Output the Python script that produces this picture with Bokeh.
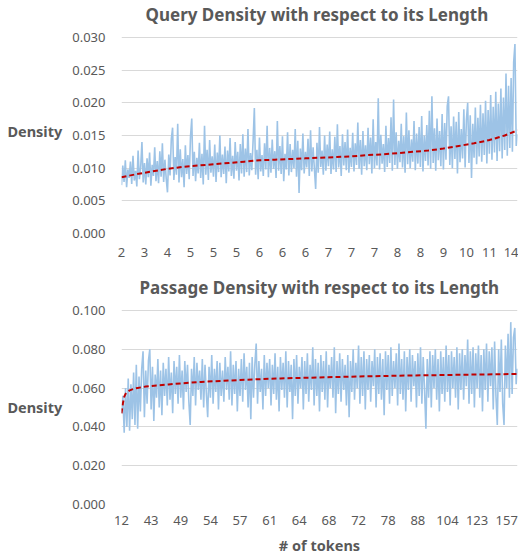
from bokeh.plotting import figure
from bokeh.layouts import column
from bokeh.models import Range1d, FixedTicker, NumeralTickFormatter
from bokeh.embed import file_html
from bokeh.resources import INLINE

# ---------------- data ----------------
query_title = "Query Density with respect to its Length"
passage_title = "Passage Density with respect to its Length"
y_title = "Density"
x_title = "# of tokens"

query_labels = ["2", "3", "4", "5", "5", "5", "6", "6", "6", "7", "7", "7", "8", "8", "9", "10", "11", "14"]
query_label_step = 18
query_density = [
    0.0074, 0.0104, 0.0079, 0.0112, 0.0071, 0.0098, 0.0085, 0.0110, 0.0076, 0.0119, 0.0081, 0.0096, 0.0072, 0.0127, 0.0083, 0.0101, 0.0140, 0.0078, 0.0108, 0.0075,
    0.0115, 0.0086, 0.0124, 0.0073, 0.0105, 0.0088, 0.0132, 0.0080, 0.0111, 0.0077, 0.0126, 0.0087, 0.0138, 0.0079, 0.0113, 0.0084, 0.0063, 0.0121, 0.0089, 0.0145,
    0.0162, 0.0082, 0.0117, 0.0090, 0.0168, 0.0078, 0.0129, 0.0086, 0.0114, 0.0071, 0.0135, 0.0091, 0.0120, 0.0083, 0.0148, 0.0176, 0.0088, 0.0125, 0.0080, 0.0116,
    0.0092, 0.0139, 0.0085, 0.0122, 0.0075, 0.0165, 0.0090, 0.0128, 0.0082, 0.0143, 0.0093, 0.0118, 0.0087, 0.0136, 0.0079, 0.0124, 0.0094, 0.0150, 0.0086, 0.0121,
    0.0091, 0.0133, 0.0077, 0.0127, 0.0095, 0.0146, 0.0088, 0.0119, 0.0084, 0.0140, 0.0096, 0.0125, 0.0081, 0.0137, 0.0092, 0.0152, 0.0087, 0.0130, 0.0094, 0.0160,
    0.0089, 0.0123, 0.0097, 0.0141, 0.0192, 0.0090, 0.0128, 0.0083, 0.0147, 0.0095, 0.0120, 0.0088, 0.0138, 0.0098, 0.0165, 0.0086, 0.0131, 0.0093, 0.0144, 0.0099,
    0.0126, 0.0085, 0.0172, 0.0096, 0.0134, 0.0091, 0.0149, 0.0080, 0.0122, 0.0098, 0.0155, 0.0089, 0.0137, 0.0094, 0.0128, 0.0100, 0.0160, 0.0087, 0.0142, 0.0062,
    0.0130, 0.0097, 0.0153, 0.0092, 0.0125, 0.0101, 0.0145, 0.0088, 0.0158, 0.0095, 0.0132, 0.0099, 0.0068, 0.0139, 0.0093, 0.0163, 0.0102, 0.0127, 0.0090, 0.0150,
    0.0096, 0.0136, 0.0103, 0.0156, 0.0091, 0.0129, 0.0098, 0.0148, 0.0094, 0.0167, 0.0101, 0.0134, 0.0088, 0.0152, 0.0104, 0.0140, 0.0097, 0.0159, 0.0093, 0.0131,
    0.0102, 0.0154, 0.0095, 0.0138, 0.0105, 0.0170, 0.0099, 0.0143, 0.0090, 0.0157, 0.0103, 0.0135, 0.0097, 0.0162, 0.0106, 0.0147, 0.0092, 0.0175, 0.0100, 0.0140,
    0.0104, 0.0207, 0.0098, 0.0151, 0.0107, 0.0137, 0.0094, 0.0165, 0.0102, 0.0146, 0.0108, 0.0178, 0.0096, 0.0205, 0.0105, 0.0155, 0.0099, 0.0142, 0.0109, 0.0168,
    0.0101, 0.0149, 0.0093, 0.0185, 0.0106, 0.0158, 0.0100, 0.0144, 0.0110, 0.0172, 0.0097, 0.0153, 0.0107, 0.0163, 0.0102, 0.0180, 0.0095, 0.0150, 0.0111, 0.0166,
    0.0104, 0.0188, 0.0099, 0.0210, 0.0108, 0.0161, 0.0096, 0.0176, 0.0112, 0.0157, 0.0103, 0.0183, 0.0098, 0.0169, 0.0113, 0.0195, 0.0210, 0.0105, 0.0164, 0.0100,
    0.0179, 0.0114, 0.0171, 0.0092, 0.0186, 0.0109, 0.0160, 0.0115, 0.0190, 0.0101, 0.0174, 0.0200, 0.0108, 0.0181, 0.0085, 0.0168, 0.0116, 0.0193, 0.0106, 0.0177,
    0.0118, 0.0197, 0.0110, 0.0184, 0.0120, 0.0203, 0.0107, 0.0189, 0.0122, 0.0212, 0.0113, 0.0194, 0.0124, 0.0217, 0.0111, 0.0199, 0.0126, 0.0222, 0.0115, 0.0208,
    0.0128, 0.0245, 0.0119, 0.0226, 0.0131, 0.0238, 0.0125, 0.0262, 0.0290, 0.0134, 0.0152,
]
query_trend_idx = [0, 12, 24, 36, 48, 60, 72, 84, 96, 108, 120, 132, 144, 156, 168, 180, 192, 204, 216, 228,
                   240, 252, 264, 276, 288, 300, 310]
query_trend = [0.0086, 0.0091, 0.0095, 0.0099, 0.0102, 0.0104, 0.0106, 0.0108, 0.0110, 0.0112, 0.0113, 0.0114, 0.0115,
               0.0116, 0.0117, 0.0118, 0.0120, 0.0121, 0.0123, 0.0125, 0.0127, 0.0130, 0.0134, 0.0138, 0.0143, 0.0150, 0.0158]

passage_labels = ["12", "43", "49", "54", "57", "61", "64", "68", "72", "78", "88", "104", "123", "157"]
passage_label_step = 22
passage_density = [
    0.0470, 0.0560, 0.0370, 0.0600, 0.0400, 0.0650, 0.0380, 0.0620, 0.0440, 0.0680, 0.0410, 0.0720, 0.0390, 0.0660, 0.0480, 0.0700, 0.0790, 0.0450, 0.0690, 0.0520,
    0.0740, 0.0800, 0.0490, 0.0710, 0.0430, 0.0670, 0.0550, 0.0750, 0.0500, 0.0690, 0.0460, 0.0730, 0.0560, 0.0700, 0.0510, 0.0760, 0.0540, 0.0680, 0.0470, 0.0740,
    0.0570, 0.0710, 0.0520, 0.0770, 0.0550, 0.0690, 0.0490, 0.0740, 0.0580, 0.0720, 0.0530, 0.0410, 0.0700, 0.0560, 0.0760, 0.0510, 0.0730, 0.0590, 0.0690, 0.0540,
    0.0750, 0.0500, 0.0720, 0.0570, 0.0450, 0.0710, 0.0550, 0.0770, 0.0520, 0.0700, 0.0580, 0.0740, 0.0490, 0.0730, 0.0560, 0.0690, 0.0530, 0.0760, 0.0590, 0.0710,
    0.0540, 0.0790, 0.0510, 0.0720, 0.0570, 0.0740, 0.0480, 0.0700, 0.0560, 0.0750, 0.0530, 0.0780, 0.0590, 0.0710, 0.0500, 0.0730, 0.0440, 0.0760, 0.0550, 0.0720,
    0.0830, 0.0520, 0.0740, 0.0580, 0.0700, 0.0490, 0.0770, 0.0560, 0.0730, 0.0600, 0.0750, 0.0510, 0.0720, 0.0570, 0.0780, 0.0540, 0.0710, 0.0480, 0.0760, 0.0590,
    0.0730, 0.0550, 0.0790, 0.0500, 0.0740, 0.0580, 0.0720, 0.0440, 0.0750, 0.0560, 0.0770, 0.0520, 0.0710, 0.0600, 0.0760, 0.0490, 0.0740, 0.0570, 0.0780, 0.0530,
    0.0720, 0.0590, 0.0810, 0.0510, 0.0750, 0.0560, 0.0730, 0.0480, 0.0770, 0.0580, 0.0740, 0.0540, 0.0790, 0.0500, 0.0720, 0.0600, 0.0760, 0.0550, 0.0810, 0.0470,
    0.0740, 0.0570, 0.0780, 0.0530, 0.0750, 0.0590, 0.0720, 0.0510, 0.0770, 0.0450, 0.0740, 0.0580, 0.0800, 0.0540, 0.0730, 0.0600, 0.0820, 0.0520, 0.0760, 0.0560,
    0.0790, 0.0490, 0.0750, 0.0590, 0.0770, 0.0530, 0.0740, 0.0610, 0.0800, 0.0500, 0.0760, 0.0570, 0.0780, 0.0540, 0.0750, 0.0460, 0.0790, 0.0590, 0.0770, 0.0520,
    0.0810, 0.0560, 0.0740, 0.0600, 0.0780, 0.0510, 0.0830, 0.0570, 0.0750, 0.0540, 0.0790, 0.0480, 0.0760, 0.0590, 0.0800, 0.0530, 0.0770, 0.0610, 0.0740, 0.0500,
    0.0780, 0.0560, 0.0810, 0.0520, 0.0760, 0.0590, 0.0390, 0.0750, 0.0550, 0.0790, 0.0500, 0.0770, 0.0600, 0.0800, 0.0540, 0.0750, 0.0480, 0.0790, 0.0570, 0.0760,
    0.0530, 0.0820, 0.0580, 0.0770, 0.0510, 0.0790, 0.0600, 0.0760, 0.0550, 0.0810, 0.0490, 0.0780, 0.0590, 0.0800, 0.0540, 0.0770, 0.0610, 0.0850, 0.0520, 0.0790,
    0.0570, 0.0810, 0.0500, 0.0780, 0.0600, 0.0820, 0.0550, 0.0770, 0.0480, 0.0800, 0.0590, 0.0830, 0.0530, 0.0790, 0.0610, 0.0810, 0.0490, 0.0840, 0.0560, 0.0410,
    0.0800, 0.0580, 0.0850, 0.0520, 0.0410, 0.0820, 0.0600, 0.0880, 0.0550, 0.0940, 0.0570, 0.0860, 0.0910, 0.0620, 0.0700,
]
passage_trend_idx = [0, 1, 2, 3, 4, 6, 9, 12, 18, 26, 35, 44, 59, 74, 88, 118, 147, 176, 206, 235, 265, 294]
passage_trend = [0.0470, 0.0520, 0.0555, 0.0570, 0.0578, 0.0588, 0.0596, 0.0601, 0.0608, 0.0614, 0.0619,
                 0.0624, 0.0632, 0.0637, 0.0642, 0.0650, 0.0655, 0.0660, 0.0664, 0.0667, 0.0670, 0.0673]

query_yticks = [0.0, 0.005, 0.010, 0.015, 0.020, 0.025, 0.030]
passage_yticks = [0.0, 0.020, 0.040, 0.060, 0.080, 0.100]

# ---------------- styling ----------------
FONT = "Noto Sans"
TXT = "#595959"
BLUE = "#9DC3E6"
RED = "#C00000"
GRID = "#D9D9D9"


def make_panel(title, values, labels, step, trend_idx, trend, yticks, height, top_border, bottom_border,
               title_standoff, title_offset, top_pad, xlab_standoff, xlabel=None):
    n = len(values)
    frame_h = height - top_border - bottom_border
    # a little empty room above the top gridline, as in the reference
    y_end = yticks[-1] * frame_h / (frame_h - top_pad)
    p = figure(width=518, height=height, output_backend="svg", toolbar_location=None,
               x_range=Range1d(0, n - 1), y_range=Range1d(yticks[0], y_end),
               min_border_left=121, min_border_right=1, min_border_top=top_border,
               min_border_bottom=bottom_border, title=title)
    p.outline_line_color = None
    p.background_fill_color = "white"
    p.border_fill_color = "white"

    p.title.align = "left"
    p.title.offset = title_offset
    p.title.vertical_align = "middle"
    p.title.text_font = FONT
    p.title.text_font_size = "17px"
    p.title.text_font_style = "bold"
    p.title.text_color = TXT
    p.title.standoff = title_standoff

    p.line(list(range(n)), values, line_color=BLUE, line_width=1.6)
    p.line(trend_idx, trend, line_color=RED, line_width=2, line_dash="5 3")

    tick_pos = [i * step for i in range(len(labels))]
    p.xaxis.ticker = FixedTicker(ticks=tick_pos)
    p.xaxis.major_label_overrides = {t: lab for t, lab in zip(tick_pos, labels)}
    p.yaxis.ticker = FixedTicker(ticks=yticks)
    p.yaxis.formatter = NumeralTickFormatter(format="0.000")

    for ax in (p.xaxis[0], p.yaxis[0]):
        ax.axis_line_color = None
        ax.major_tick_line_color = None
        ax.minor_tick_line_color = None
        ax.major_tick_out = 0
        ax.major_tick_in = 0
        ax.major_label_text_font = FONT
        ax.major_label_text_font_size = "13px"
        ax.major_label_text_color = TXT
        ax.axis_label_text_font = FONT
        ax.axis_label_text_font_size = "14.5px"
        ax.axis_label_text_font_style = "bold"
        ax.axis_label_text_color = TXT

    p.yaxis.major_label_standoff = 16
    p.xaxis.major_label_standoff = xlab_standoff
    p.yaxis.axis_label = y_title
    p.yaxis.axis_label_orientation = "horizontal"
    p.yaxis.axis_label_standoff = 7
    if xlabel:
        p.xaxis.axis_label = xlabel
        p.xaxis.axis_label_standoff = 7

    p.xgrid.grid_line_color = None
    p.ygrid.grid_line_color = GRID
    p.ygrid.grid_line_width = 1
    return p


p1 = make_panel(query_title, query_density, query_labels, query_label_step,
                query_trend_idx, query_trend, query_yticks, 266, 28, 33, 3, 24, 9, 14)
p2 = make_panel(passage_title, passage_density, passage_labels, passage_label_step,
                passage_trend_idx, passage_trend, passage_yticks, 292, 42, 54, 17, 18, 2, 11, xlabel=x_title)

layout = column(p1, p2, spacing=0)
open("out.html", "w").write(file_html(layout, INLINE))
